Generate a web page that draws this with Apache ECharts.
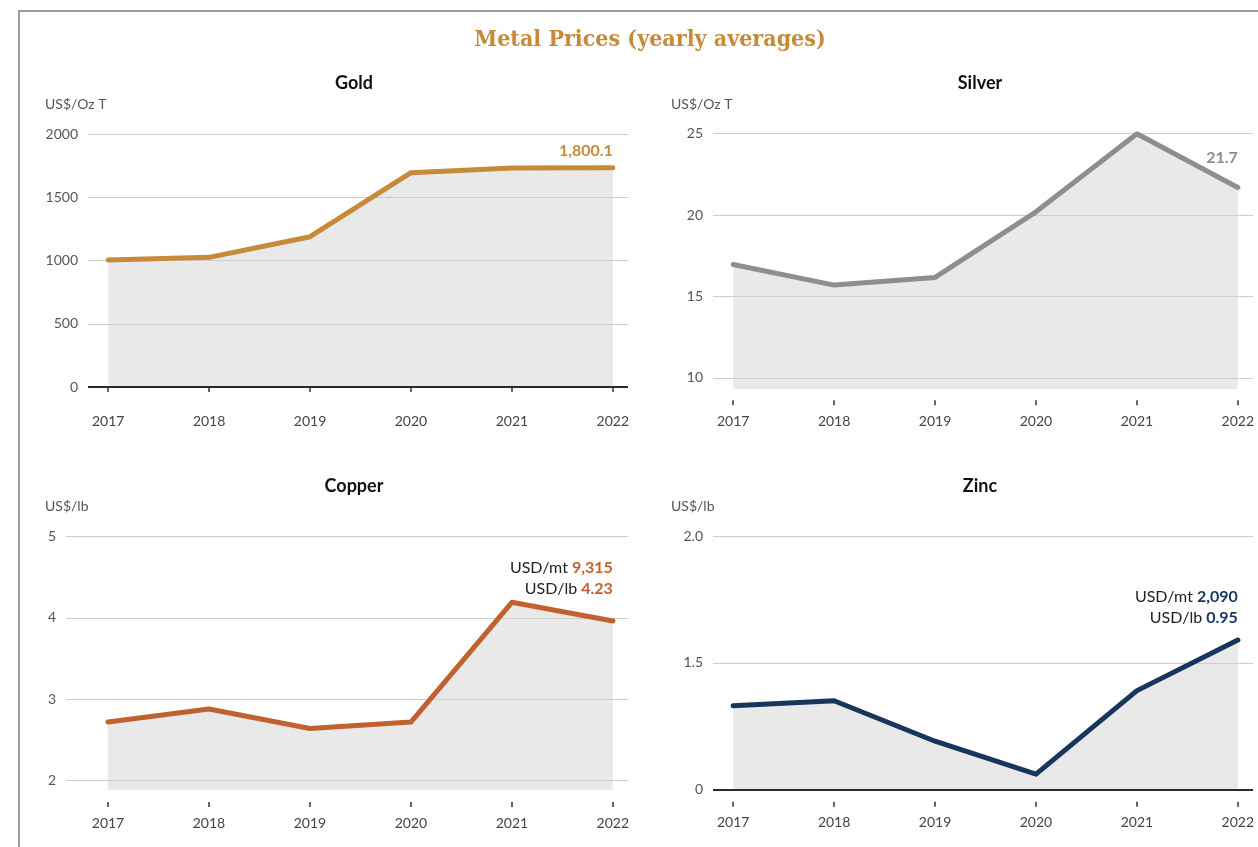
<!DOCTYPE html>
<html>
<head>
<meta charset="utf-8">
<title>Metal Prices</title>
<script src="https://cdn.jsdelivr.net/npm/echarts@6/dist/echarts.min.js"></script>
<style>
  html, body { margin: 0; padding: 0; background: #fff; }
  #main { width: 1258px; height: 847px; }
</style>
</head>
<body>
<div id="main"></div>
<script>
// yearly averages
var years = [2017, 2018, 2019, 2020, 2021, 2022];
var goldValues = [1004, 1025, 1188, 1694, 1731, 1734];
var silverValues = [16.97, 15.7, 16.17, 20.2, 25.0, 21.7];
var copperValues = [2.72, 2.88, 2.64, 2.72, 4.19, 3.96];
var zincValues = [1.33, 1.35, 1.19, 1.06, 1.39, 1.59];

// axis ticks
var goldTicks = [0, 500, 1000, 1500, 2000];
var silverTicks = [10, 15, 20, 25];
var copperTicks = [2, 3, 4, 5];
var zincTicks = [1, 1.5, 2];
var zincTickLabels = ['0', '1.5', '2.0'];

var panelTitles = ['Gold', 'Silver', 'Copper', 'Zinc'];
var unitLabels = ['US$/Oz T', 'US$/Oz T', 'US$/lb', 'US$/lb'];
var goldLast = '1,800.1';
var silverLast = '21.7';
var copperMt = '9,315', copperLb = '4.23';
var zincMt = '2,090', zincLb = '0.95';

var font = 'Lato, "Noto Sans", sans-serif';
var chart = echarts.init(document.getElementById('main'));

function twoLine(mt, lb, color, dist) {
  return {
    show: true, position: 'top', align: 'right', distance: dist,
    formatter: '{a|USD/mt }{b|' + mt + '}\n{a|USD/lb }{b|' + lb + '}',
    rich: {
      a: { align: 'right', color: '#222', fontSize: 16, lineHeight: 21, fontFamily: font },
      b: { align: 'right', color: color, fontSize: 16, lineHeight: 21, fontWeight: 'bold', fontFamily: font }
    }
  };
}

function oneLine(text, color, dist) {
  return {
    show: true, position: 'top', align: 'right', distance: dist,
    formatter: text, color: color, fontSize: 16, fontWeight: 'bold', fontFamily: font
  };
}

var panels = [
  { values: goldValues, ticks: goldTicks, labels: goldTicks.map(String), color: '#c68a38', base: 0,
    grid: { left: 88, right: 630, top: 134, height: 253 }, xMin: 2016.8, yMin: 0, yMax: 2000, offset: 13,
    label: oneLine(goldLast, '#c68a38', 9), titleX: 354, titleY: 83, unitX: 45, unitY: 104 },
  { values: silverValues, ticks: silverTicks, labels: silverTicks.map(String), color: '#8e8e90', base: null,
    grid: { left: 713, right: 5, top: 133.7, height: 255.6 }, xMin: 2016.8, yMin: 9.3, yMax: 25, offset: 11,
    label: oneLine(silverLast, '#8e8e90', 22), titleX: 980, titleY: 83, unitX: 671, unitY: 104 },
  { values: copperValues, ticks: copperTicks, labels: copperTicks.map(String), color: '#c0622f', base: null,
    grid: { left: 66, right: 630, top: 536.3, height: 253.7 }, xMin: 2016.584, yMin: 1.886, yMax: 5, offset: 12,
    label: twoLine(copperMt, copperLb, '#c0622f', 22), titleX: 354, titleY: 486, unitX: 45, unitY: 506 },
  { values: zincValues, ticks: zincTicks, labels: zincTickLabels, color: '#17365d', base: 1,
    grid: { left: 713, right: 5, top: 536.3, height: 253 }, xMin: 2016.8, yMin: 1, yMax: 2, offset: 12.5,
    label: twoLine(zincMt, zincLb, '#17365d', 12), titleX: 980, titleY: 486, unitX: 671, unitY: 506 }
];

var grids = [], xAxes = [], yAxes = [], series = [];
var graphics = [
  { type: 'polyline', silent: true, shape: { points: [[1258, 11], [19, 11], [19, 847]] },
    style: { stroke: '#9c9c9c', lineWidth: 2, fill: null } },
  { type: 'text', x: 650, y: 40,
    style: { text: 'Metal Prices (yearly averages)', align: 'center', verticalAlign: 'middle',
      textAlign: 'center', textVerticalAlign: 'middle', fill: '#c68a38',
      fontFamily: '"DejaVu Serif Condensed", "DejaVu Serif", serif', fontWeight: 'bold', fontSize: 23 } }
];

panels.forEach(function (p, i) {
  grids.push(p.grid);
  xAxes.push({
    type: 'value', gridIndex: i, min: p.xMin, max: 2022.15, offset: p.offset,
    axisLine: { show: false }, splitLine: { show: false },
    axisTick: { show: true, customValues: years, length: 5, lineStyle: { color: '#333', width: 1.5 } },
    axisLabel: { customValues: years, margin: 14, color: '#444', fontSize: 14, fontFamily: font,
      formatter: function (v) { return String(v); } }
  });
  yAxes.push({
    type: 'value', gridIndex: i, min: p.yMin, max: p.yMax,
    axisLine: { show: false }, axisTick: { show: false }, splitLine: { show: false },
    axisLabel: { customValues: p.ticks, margin: 10, color: '#555', fontSize: 14, fontFamily: font,
      formatter: function (v) {
        var k = p.ticks.indexOf(v);
        return k >= 0 ? p.labels[k] : '';
      } }
  });
  var pts = years.map(function (y, k) { return [y, p.values[k]]; });
  // grey area with the gridlines on top of it
  series.push({
    type: 'line', xAxisIndex: i, yAxisIndex: i, data: pts, z: 1,
    showSymbol: false, lineStyle: { width: 0 },
    areaStyle: { color: '#e9e9e9', opacity: 1, origin: 'start' },
    silent: true, animation: false,
    markLine: {
      silent: true, symbol: ['none', 'none'], z: 2, animation: false,
      label: { show: false },
      emphasis: { disabled: true },
      data: p.ticks.map(function (v) {
        var dark = v === p.base;
        return { yAxis: v, lineStyle: { color: dark ? '#2b2b2b' : '#cdcdcd', width: dark ? 2 : 1, type: 'solid' } };
      })
    }
  });
  // coloured line
  series.push({
    type: 'line', xAxisIndex: i, yAxisIndex: i, z: 3,
    symbol: 'circle', symbolSize: 0, showSymbol: true,
    lineStyle: { color: p.color, width: 5, cap: 'round', join: 'round' },
    itemStyle: { color: p.color },
    animation: false, silent: true,
    data: pts.map(function (pt, k) {
      var item = { value: pt };
      if (k === pts.length - 1) item.label = p.label;
      return item;
    })
  });
  graphics.push({ type: 'text', x: p.titleX, y: p.titleY,
    style: { text: panelTitles[i], align: 'center', verticalAlign: 'middle', textAlign: 'center',
      textVerticalAlign: 'middle', fill: '#111', fontFamily: font, fontWeight: 'bold', fontSize: 18 } });
  graphics.push({ type: 'text', x: p.unitX, y: p.unitY,
    style: { text: unitLabels[i], align: 'left', verticalAlign: 'middle', textAlign: 'left',
      textVerticalAlign: 'middle', fill: '#555', fontFamily: font, fontSize: 14 } });
});

chart.setOption({
  backgroundColor: '#fff',
  animation: false,
  grid: grids,
  xAxis: xAxes,
  yAxis: yAxes,
  series: series,
  graphic: graphics
});
</script>
</body>
</html>
